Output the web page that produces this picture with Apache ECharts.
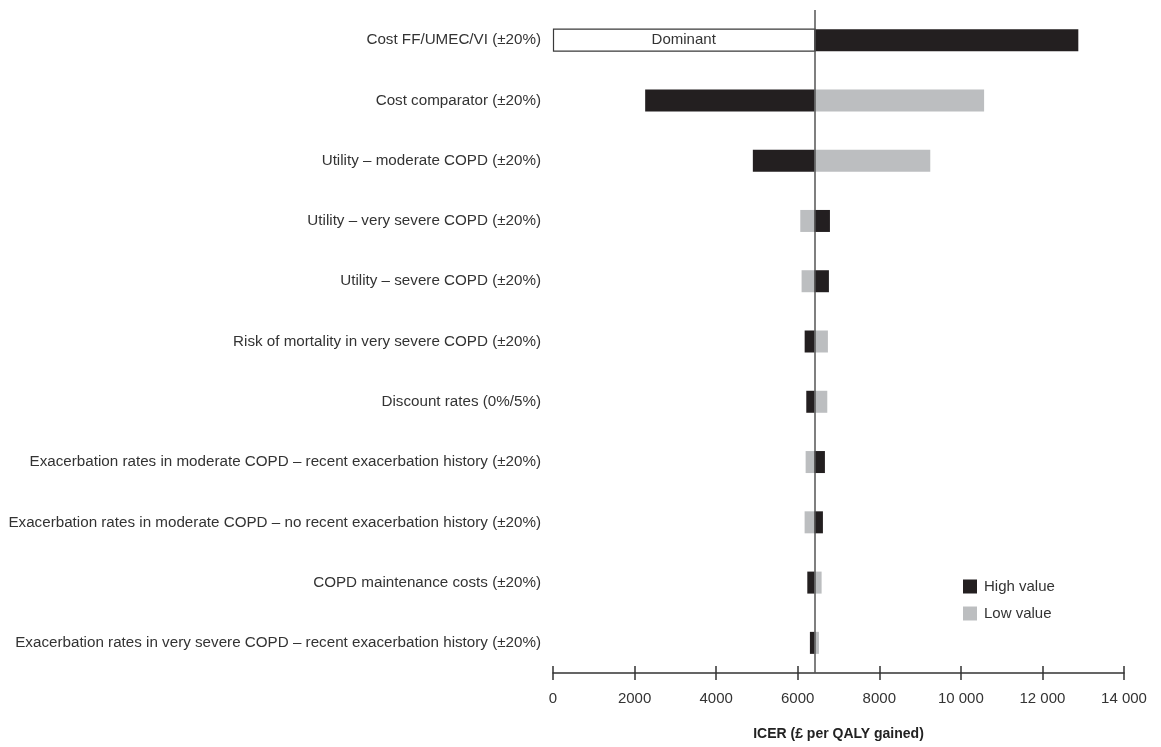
<!DOCTYPE html>
<html>
<head>
<meta charset="utf-8">
<title>ICER tornado diagram</title>
<script src="https://cdn.jsdelivr.net/npm/echarts@6/dist/echarts.min.js"></script>
<style>
  html, body { margin: 0; padding: 0; background: #fff; }
  #chart { width: 1161px; height: 747px; }
</style>
</head>
<body>
<div id="chart"></div>
<script>
// Base-case ICER (£ per QALY gained)
const baseICER = 6410;

const parameters = [
  'Cost FF/UMEC/VI (±20%)',
  'Cost comparator (±20%)',
  'Utility – moderate COPD (±20%)',
  'Utility – very severe COPD (±20%)',
  'Utility – severe COPD (±20%)',
  'Risk of mortality in very severe COPD (±20%)',
  'Discount rates (0%/5%)',
  'Exacerbation rates in moderate COPD – recent exacerbation history (±20%)',
  'Exacerbation rates in moderate COPD – no recent exacerbation history (±20%)',
  'COPD maintenance costs (±20%)',
  'Exacerbation rates in very severe COPD – recent exacerbation history (±20%)'
];

// ICER when the parameter takes its high value
const highValues = [12880, 2260, 4900, 6790, 6765, 6170, 6210, 6667, 6618, 6235, 6299];
// ICER when the parameter takes its low value (null = FF/UMEC/VI dominant)
const lowValues = [null, 10570, 9250, 6063, 6095, 6740, 6725, 6194, 6169, 6586, 6520];

const xTicks = { min: 0, max: 14000, interval: 2000 };

const BLACK = '#231f20';
const GREY = '#bcbec0';
const FONT = 'Liberation Sans, Arial, sans-serif';

function makeRender(color) {
  return function (params, api) {
    const cat = api.value(1);
    const raw = api.value(0);
    const dominant = raw == null || isNaN(raw);
    const v = dominant ? xTicks.min : raw;
    const p = api.coord([v, cat]);
    const b = api.coord([baseICER, cat]);
    const h = 22;
    const x0 = Math.min(p[0], b[0]);
    const w = Math.abs(p[0] - b[0]);
    if (dominant) {
      return {
        type: 'group',
        children: [
          {
            type: 'rect',
            shape: { x: x0 + 0.5, y: p[1] - h / 2, width: w, height: h },
            style: { fill: '#fff', stroke: '#3a3a3a', lineWidth: 1.2 }
          },
          {
            type: 'text',
            style: {
              x: x0 + w / 2, y: p[1], text: 'Dominant',
              align: 'center', verticalAlign: 'middle',
              fill: '#333', font: '15px ' + FONT
            }
          }
        ]
      };
    }
    return {
      type: 'rect',
      shape: { x: x0, y: p[1] - h / 2, width: w, height: h },
      style: { fill: color }
    };
  };
}

const chart = echarts.init(document.getElementById('chart'), null, { renderer: 'canvas' });

chart.setOption({
  animation: false,
  backgroundColor: '#fff',
  textStyle: { fontFamily: FONT },
  grid: { left: 553, right: 37, top: 10, bottom: 74, containLabel: false, outerBoundsMode: 'none' },
  legend: {
    orient: 'vertical',
    left: 958,
    top: 574,
    itemWidth: 14,
    itemHeight: 14,
    itemGap: 12,
    icon: 'rect',
    textStyle: { fontSize: 15, color: '#333', fontFamily: FONT, padding: [0, 0, 0, 2] },
    data: ['High value', 'Low value']
  },
  xAxis: [
    {
      type: 'value',
      min: xTicks.min, max: xTicks.max, interval: xTicks.interval,
      name: 'ICER (£ per QALY gained)',
      nameLocation: 'middle',
      nameGap: 54,
      nameTextStyle: { fontSize: 14, fontWeight: 'bold', color: '#222', fontFamily: FONT },
      axisLine: { show: true, lineStyle: { color: '#333', width: 1.5 } },
      axisTick: { show: true, inside: false, length: 7, lineStyle: { color: '#333', width: 1.5 } },
      axisLabel: {
        fontSize: 15, color: '#333', margin: 18, fontFamily: FONT,
        formatter: v => v >= 10000 ? String(v).replace(/(\d+)(\d{3})$/, '$1 $2') : String(v)
      },
      splitLine: { show: false }
    },
    {
      type: 'value',
      position: 'bottom',
      min: xTicks.min, max: xTicks.max, interval: xTicks.interval,
      axisLine: { show: false },
      axisTick: { show: true, inside: true, length: 7, lineStyle: { color: '#333', width: 1.5 } },
      axisLabel: { show: false },
      splitLine: { show: false }
    }
  ],
  yAxis: {
    type: 'category',
    inverse: true,
    data: parameters,
    axisLine: { show: false },
    axisTick: { show: false },
    axisLabel: { fontSize: 15.2, color: '#333', margin: 12, fontFamily: FONT }
  },
  series: [
    {
      name: 'High value',
      type: 'custom',
      itemStyle: { color: BLACK },
      renderItem: makeRender(BLACK),
      encode: { x: 0, y: 1 },
      data: parameters.map((p, i) => [highValues[i], i]),
      z: 3,
      markLine: {
        silent: true,
        symbol: 'none',
        label: { show: false },
        lineStyle: { color: '#555', width: 1.5, type: 'solid' },
        data: [{ xAxis: baseICER }]
      }
    },
    {
      name: 'Low value',
      type: 'custom',
      itemStyle: { color: GREY },
      renderItem: makeRender(GREY),
      encode: { x: 0, y: 1 },
      data: parameters.map((p, i) => [lowValues[i] == null ? '-' : lowValues[i], i]),
      z: 2
    }
  ]
});
</script>
</body>
</html>
